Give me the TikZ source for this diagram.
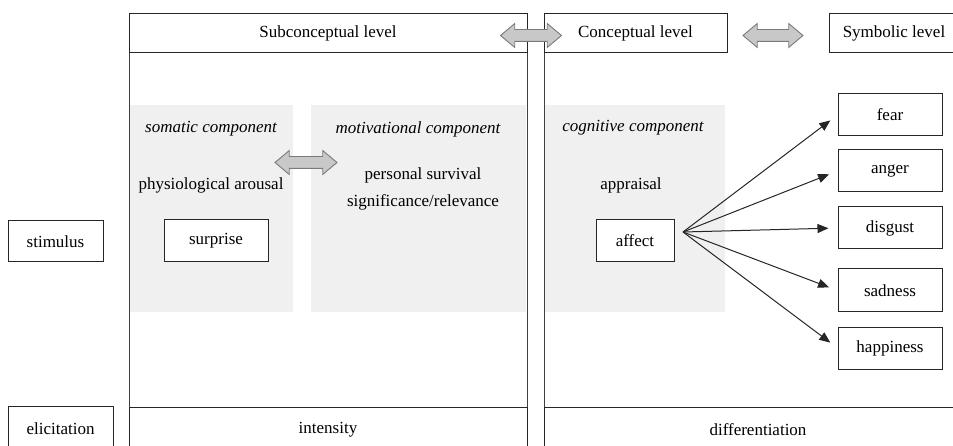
\documentclass[tikz,border=0pt]{standalone}
\usepackage{fontspec}
\setmainfont{Liberation Serif}
\usetikzlibrary{arrows.meta,shapes.arrows}
\definecolor{panelgray}{HTML}{F0F0F0}
\definecolor{arrowfill}{HTML}{C8C8C8}
\definecolor{arrowline}{HTML}{7A7A7A}
\tikzset{
  every node/.style={font=\fontsize{17}{20}\selectfont, inner sep=0pt},
  box/.style={draw=black!85, line width=1pt, fill=white},
  dblarrow/.style={double arrow, draw=arrowline, fill=arrowfill, line width=0.9pt,
    inner xsep=0pt, inner ysep=5.5pt, double arrow head extend=6pt,
    double arrow tip angle=80, minimum height=62pt},
  conn/.style={draw=black!85, line width=1pt, -{Triangle[length=11pt,width=9pt]}},
  frame/.style={draw=black!75, line width=1pt},
  shade/.style={fill=panelgray, draw=none}
}
\begin{document}
\begin{tikzpicture}[x=1pt,y=-1pt]
\useasboundingbox (0,0) rectangle (953,446);
\clip (0,0) rectangle (953,446);
% shaded component areas
\fill[shade] (130,105) rectangle (293,312);
\fill[shade] (311,105) rectangle (526,312);
\fill[shade] (545,105) rectangle (725,312);
% panel frames
\draw[frame] (129,14) rectangle (527,452);
\draw[frame] (544,14) -- (544,452);
% headers
\node[box, minimum width=398pt, minimum height=39pt] (hsub) at (328,33.5) {Subconceptual level};
\node[box, minimum width=183pt, minimum height=39pt] (hcon) at (635.5,33.5) {Conceptual level};
\node[box, minimum width=130pt, minimum height=39pt] (hsym) at (894,33.5) {Symbolic level};
% bottom boxes
\node[box, minimum width=398pt, minimum height=45pt] (int) at (328,429.5) {intensity};
\node[box, minimum width=428pt, minimum height=45pt] (diff) at (758,429.5) {differentiation};
\node[box, minimum width=105pt, minimum height=45pt] (elic) at (60.5,428.5) {elicitation};
\node[box, minimum width=95pt, minimum height=41pt] (stim) at (55.5,241.5) {stimulus};
% double arrows
\node[dblarrow, minimum height=61pt] (da1) at (531,35.5) {};
\node[dblarrow, minimum height=60pt] (da2) at (773,35.5) {};
\node[dblarrow, minimum height=62pt] (da3) at (306,162.5) {};
% component texts
\node (som) at (211,129) {\itshape somatic component};
\node (mot) at (418,129) {\itshape motivational component};
\node (cog) at (633,128) {\itshape cognitive component};
\node (phys) at (211,185) {physiological arousal};
\node (pers) at (423,175) {personal survival};
\node (sign) at (423,202) {significance/relevance};
\node (appr) at (631,185) {appraisal};
\node[box, minimum width=104pt, minimum height=42pt] (surp) at (216,241) {surprise};
\node[box, minimum width=78pt, minimum height=42pt] (aff) at (635,241) {affect};
% emotions
\node[box, minimum width=104pt, minimum height=42pt] (fear) at (890,115) {fear};
\node[box, minimum width=104pt, minimum height=42pt] (anger) at (890,171) {anger};
\node[box, minimum width=104pt, minimum height=42pt] (disg) at (890,228) {disgust};
\node[box, minimum width=104pt, minimum height=43pt] (sad) at (890,290.5) {sadness};
\node[box, minimum width=104pt, minimum height=42pt] (happ) at (890,348) {happiness};
\coordinate (hub) at (683,232);
\foreach \t in {fear,anger,disg,sad,happ}{
  \draw[conn, shorten >=9pt] (hub) -- (\t.west);
}
\end{tikzpicture}
\end{document}
